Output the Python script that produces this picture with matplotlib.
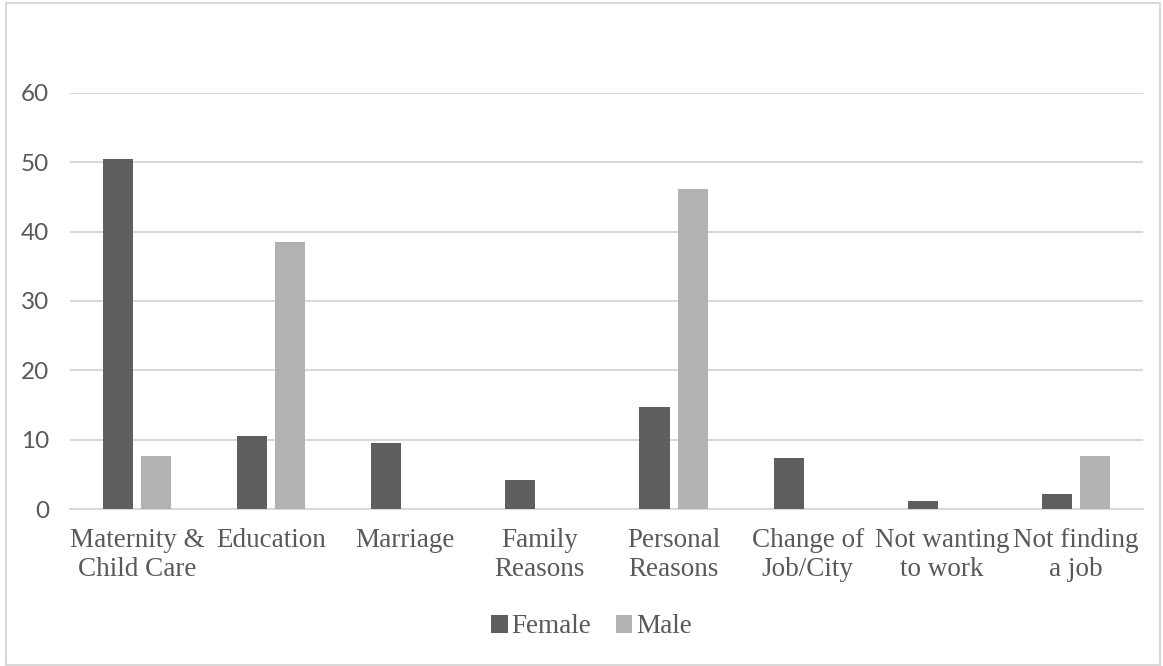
import numpy as np
import matplotlib
matplotlib.use('Agg')
import matplotlib.pyplot as plt
from matplotlib.patches import Rectangle

categories = ['Maternity &\nChild Care', 'Education', 'Marriage', 'Family\nReasons',
              'Personal\nReasons', 'Change of\nJob/City', 'Not wanting\nto work',
              'Not finding\na job']
female = [50.5, 10.5, 9.5, 4.2, 14.7, 7.4, 1.1, 2.1]
male = [7.7, 38.5, 0, 0, 46.2, 0, 0, 7.7]
yticks = [0, 10, 20, 30, 40, 50, 60]

text_color = '#595959'
grid_color = '#d9d9d9'

fig = plt.figure(figsize=(11.63, 6.66), dpi=100)
ax = fig.add_axes([0.0602, 0.2357, 0.9226, 0.6247])

x = np.arange(len(categories))
w = 0.225
ax.bar(x - 0.142, female, w, color='#5f5f5f', label='Female', zorder=3)
ax.bar(x + 0.142, male, w, color='#b2b2b2', label='Male', zorder=3)

ax.set_xlim(-0.5, len(categories) - 0.5)
ax.set_ylim(0, 60)
ax.set_yticks(yticks)
ax.yaxis.grid(True, color=grid_color, linewidth=1.5, zorder=0)
ax.set_axisbelow(True)
for s in ['top', 'right', 'left']:
    ax.spines[s].set_visible(False)
ax.spines['bottom'].set_color(grid_color)
ax.spines['bottom'].set_linewidth(1.5)

ax.tick_params(axis='y', length=0, pad=15, labelcolor=text_color, labelsize=17.5)
for lab in ax.get_yticklabels():
    lab.set_family('Lato')
ax.set_xticks(x)
ax.set_xticklabels(categories, family='Liberation Serif', fontsize=19.5,
                   color=text_color, linespacing=1.2)
ax.tick_params(axis='x', length=0, pad=14)

leg = fig.legend(loc='center', bbox_to_anchor=(0.5086, 0.0586), ncol=2, frameon=False,
                 handlelength=0.6, handleheight=0.6, handletextpad=0.15, columnspacing=0.9,
                 prop={'family': 'Liberation Serif', 'size': 19.5})
for t in leg.get_texts():
    t.set_color(text_color)

fig.patches.append(Rectangle((6 / 1163, 1 / 666), 1154 / 1163, 662 / 666,
                             transform=fig.transFigure, fill=False,
                             edgecolor=grid_color, linewidth=1.5))

fig.savefig('out.png', dpi=100)
